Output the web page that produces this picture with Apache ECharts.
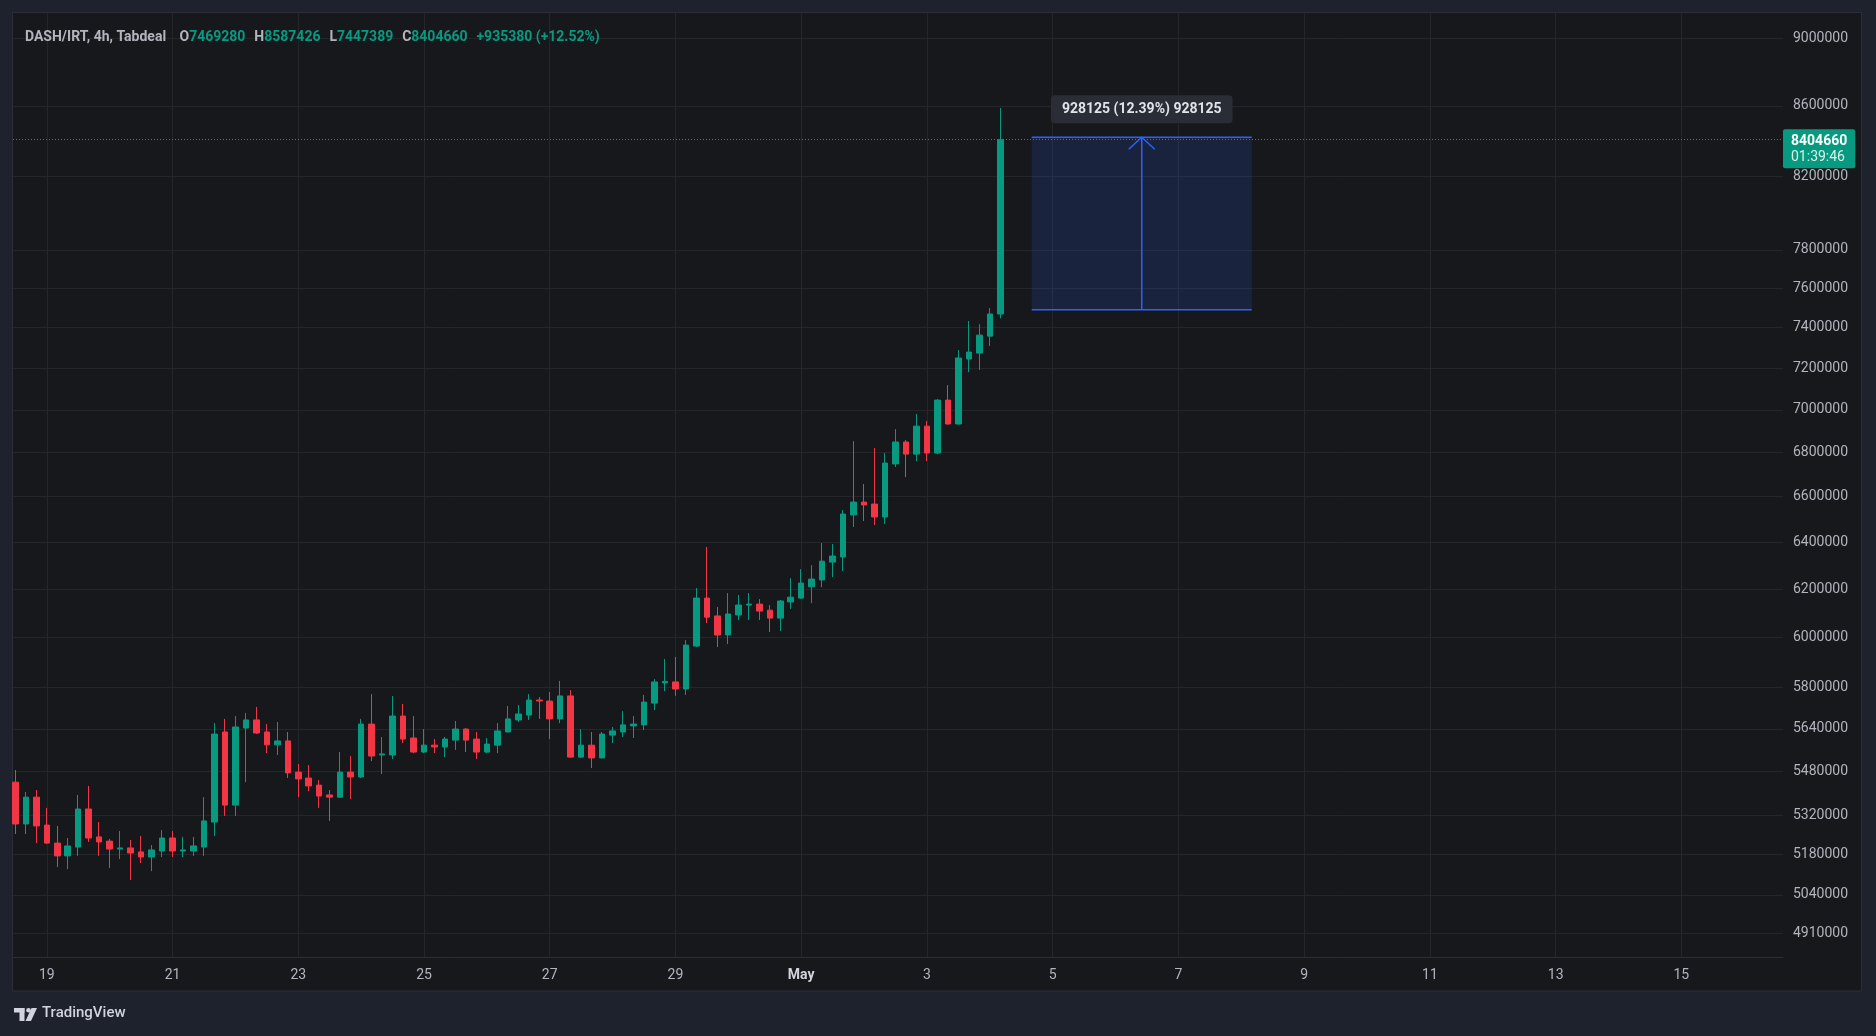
<!DOCTYPE html>
<html>
<head>
<meta charset="utf-8">
<script src="https://cdn.jsdelivr.net/npm/echarts@6/dist/echarts.min.js"></script>
<style>
html,body{margin:0;padding:0;background:#1e222d;}
#chart{width:1876px;height:1036px;}
</style>
</head>
<body>
<div id="chart"></div>
<script>
// ---- data (4h candles, DASH/IRT) ----
const startTime = '2024-04-18T12:00:00Z';
const stepHours = 4;
const open = [5440000,5288000,5385000,5284000,5220000,5175000,5206000,5342000,5242000,5227000,
  5199000,5203000,5189000,5171000,5192000,5238000,5192000,5192000,5206000,5295000,
  5628000,5356000,5643000,5674000,5628000,5579000,5594000,5477000,5455000,5429000,
  5393000,5385000,5477000,5459000,5658000,5541000,5541000,5689000,5605000,5552000,
  5578000,5571000,5597000,5639000,5601000,5552000,5578000,5628000,5674000,5693000,
  5751000,5747000,5678000,5767000,5533000,5578000,5530000,5616000,5628000,5651000,
  5655000,5739000,5818000,5822000,5794000,5965000,6162000,6088000,6010000,6092000,
  6133000,6137000,6112000,6079000,6146000,6162000,6209000,6238000,6314000,6336000,
  6519000,6576000,6567000,6510000,6748000,6849000,6793000,6923000,6798000,7046000,
  6933000,7245000,7274000,7358000,7469280];
const high = [5485000,5404000,5411000,5346000,5281000,5238000,5393000,5426000,5295000,5235000,
  5263000,5231000,5245000,5213000,5266000,5263000,5242000,5242000,5385000,5662000,
  5678000,5689000,5701000,5724000,5658000,5666000,5628000,5507000,5503000,5448000,
  5411000,5552000,5537000,5678000,5774000,5609000,5767000,5736000,5689000,5639000,
  5601000,5609000,5670000,5642000,5628000,5605000,5662000,5728000,5732000,5774000,
  5763000,5782000,5826000,5790000,5639000,5628000,5628000,5647000,5708000,5689000,
  5771000,5833000,5913000,5921000,5990000,6204000,6379000,6125000,6183000,6175000,
  6183000,6158000,6133000,6154000,6246000,6284000,6301000,6396000,6392000,6541000,
  6853000,6657000,6821000,6798000,6909000,6858000,6980000,6947000,7051000,7118000,
  7289000,7434000,7418000,7499000,8587426];
const low = [5252000,5252000,5220000,5217000,5136000,5129000,5175000,5224000,5175000,5133000,
  5164000,5091000,5150000,5122000,5171000,5171000,5171000,5175000,5175000,5245000,
  5317000,5317000,5440000,5620000,5548000,5541000,5455000,5385000,5407000,5346000,
  5299000,5382000,5378000,5455000,5518000,5470000,5526000,5586000,5548000,5548000,
  5548000,5533000,5560000,5552000,5526000,5548000,5548000,5626000,5666000,5674000,
  5678000,5601000,5662000,5530000,5530000,5492000,5528000,5586000,5609000,5605000,
  5635000,5712000,5786000,5767000,5771000,5961000,6059000,5961000,5973000,6071000,
  6071000,6071000,6022000,6026000,6117000,6160000,6141000,6208000,6250000,6276000,
  6466000,6492000,6475000,6479000,6734000,6688000,6761000,6761000,6793000,6930000,
  6930000,7181000,7191000,7309000,7447389];
const close = [5288000,5385000,5281000,5220000,5175000,5210000,5342000,5238000,5224000,5199000,
  5203000,5185000,5171000,5196000,5238000,5192000,5196000,5210000,5299000,5620000,
  5356000,5647000,5674000,5624000,5579000,5594000,5474000,5452000,5426000,5389000,
  5385000,5477000,5459000,5658000,5537000,5545000,5689000,5601000,5552000,5578000,
  5571000,5601000,5639000,5597000,5552000,5582000,5632000,5678000,5697000,5751000,
  5747000,5678000,5767000,5533000,5578000,5530000,5620000,5632000,5655000,5658000,
  5743000,5822000,5824000,5794000,5969000,6162000,6083000,6010000,6096000,6133000,
  6137000,6108000,6079000,6150000,6166000,6225000,6242000,6318000,6340000,6523000,
  6576000,6563000,6510000,6752000,6849000,6793000,6923000,6798000,7046000,6933000,
  7250000,7279000,7363000,7469280,8404660];

// price-range measurement drawn on the chart: [start, end, low price, high price]
const measureStart = '2024-05-04T16:00:00Z';
const measureEnd = '2024-05-08T04:00:00Z';
const measureLow = 7490920;
const measureHigh = 8419045;

const countdown = '01:39:46';
const symbolTitle = 'DASH/IRT, 4h, Tabdeal';

// axis ticks
const yTicks = [4910000,5040000,5180000,5320000,5480000,5640000,5800000,6000000,6200000,
  6400000,6600000,6800000,7000000,7200000,7400000,7600000,7800000,8200000,8600000,9000000];
const xTickDates = ['2024-04-19','2024-04-21','2024-04-23','2024-04-25','2024-04-27','2024-04-29',
  '2024-05-01','2024-05-03','2024-05-05','2024-05-07','2024-05-09','2024-05-11','2024-05-13','2024-05-15'];
const xTickLabels = ['19','21','23','25','27','29','May','3','5','7','9','11','13','15'];

// visible range
const xMin = Date.parse('2024-04-18T11:06:00Z');
const xMax = Date.parse('2024-05-16T14:48:00Z');
const yMin = 4831200;
const yMax = 9155900;

// ---- build ----
const t0 = Date.parse(startTime);
const times = open.map((_, i) => t0 + i * stepHours * 3600000);
const candleData = open.map((o, i) => [times[i], o, close[i], low[i], high[i]]);
const xTickValues = xTickDates.map(d => Date.parse(d + 'T00:00:00Z'));

const n = close.length;
const lastO = open[n-1], lastH = high[n-1], lastL = low[n-1], lastC = close[n-1];
const chg = lastC - close[n-2];
const chgPct = chg / close[n-2] * 100;
const UP = '#089981', DOWN = '#f23645';
const lastColor = lastC >= lastO ? UP : DOWN;

const FONT = 'Roboto, "Noto Sans", sans-serif';

const chart = echarts.init(document.getElementById('chart'), null, {renderer: 'canvas'});

const headerText = `{n|${symbolTitle}}   {k|O}{v|${lastO}}  {k|H}{v|${lastH}}  {k|L}{v|${lastL}}  {k|C}{v|${lastC}}  {v|${chg >= 0 ? '+' : ''}${chg} (${chg >= 0 ? '+' : ''}${chgPct.toFixed(2)}%)}`;

const option = {
  animation: false,
  backgroundColor: '#1e222d',
  textStyle: {fontFamily: FONT},
  graphic: [
    {type: 'rect', z: -10, silent: true, shape: {x: 12.5, y: 12.5, width: 1849, height: 978.5},
      style: {fill: '#17181c', stroke: '#2a2e39', lineWidth: 1}},
    {type: 'group', left: 14, top: 1008, children: [
      {type: 'rect', shape: {x: 0, y: 0, width: 10.5, height: 4.5}, style: {fill: '#d1d4dc'}},
      {type: 'rect', shape: {x: 5.5, y: 0, width: 5, height: 13}, style: {fill: '#d1d4dc'}},
      {type: 'circle', shape: {cx: 14.5, cy: 2.3, r: 2.3}, style: {fill: '#d1d4dc'}},
      {type: 'polygon', shape: {points: [[17.5, 0], [23, 0], [17, 13], [11.5, 13]]}, style: {fill: '#d1d4dc'}}
    ]},
    {type: 'text', left: 42, top: 1006, style: {text: 'TradingView', fill: '#d1d4dc', font: '500 15px ' + FONT}}
  ],
  title: {
    text: headerText, left: 20, top: 23,
    textStyle: {rich: {
      n: {color: '#b2b5be', fontSize: 14, fontFamily: FONT},
      k: {color: '#b2b5be', fontSize: 14, fontFamily: FONT},
      v: {color: lastColor, fontSize: 14, fontFamily: FONT}
    }}
  },
  grid: {left: 13, right: 93, top: 13.3, bottom: 78.6, containLabel: false},
  xAxis: {
    type: 'value', min: xMin, max: xMax, scale: true,
    axisLine: {show: true, onZero: false, lineStyle: {color: '#2a2e39', width: 1}},
    axisTick: {show: false, customValues: xTickValues},
    axisLabel: {
      customValues: xTickValues, color: '#b2b5be', fontSize: 14, fontFamily: FONT, margin: 11,
      hideOverlap: false, showMinLabel: true, showMaxLabel: true,
      formatter: function (v) {
        const idx = xTickValues.indexOf(v);
        const s = idx >= 0 ? xTickLabels[idx] : '';
        return isNaN(Number(s)) ? '{m|' + s + '}' : s;
      },
      rich: {m: {color: '#d1d4dc', fontWeight: 'bold', fontSize: 14, fontFamily: FONT}}
    },
    splitLine: {show: true, lineStyle: {color: '#25262a', width: 1}}
  },
  yAxis: {
    type: 'log', logBase: 10, position: 'right', min: yMin, max: yMax,
    axisLine: {show: false},
    axisTick: {show: false, customValues: yTicks},
    axisLabel: {customValues: yTicks, color: '#b2b5be', fontSize: 14, fontFamily: FONT, margin: 10,
      formatter: v => String(Math.round(v))},
    splitLine: {show: true, lineStyle: {color: '#25262a', width: 1}}
  },
  series: [
    {
      type: 'candlestick', name: 'DASH/IRT',
      data: candleData,
      encode: {x: 0, y: [1, 2, 3, 4]},
      barWidth: 6,
      itemStyle: {color: UP, color0: DOWN, borderColor: UP, borderColor0: DOWN, borderWidth: 1},
      markLine: {
        silent: true, symbol: ['none', 'none'], animation: false,
        lineStyle: {color: lastColor, type: [1, 2], width: 1},
        label: {
          show: true, position: 'end', distance: 0, offset: [0, 9],
          formatter: `{p|${lastC}}\n{t|${countdown}}`,
          backgroundColor: lastColor, padding: [4, 8, 3, 8], borderRadius: 2,
          rich: {
            p: {color: '#ffffff', fontWeight: 'bold', fontSize: 14, lineHeight: 16, fontFamily: FONT},
            t: {color: '#d8f1ea', fontSize: 14, lineHeight: 16, fontFamily: FONT}
          }
        },
        data: [{yAxis: lastC}]
      }
    },
    {
      type: 'custom', name: 'measure', silent: true, clip: false, z: 3,
      encode: {x: [0, 1], y: [2, 3]},
      data: [[Date.parse(measureStart), Date.parse(measureEnd), measureLow, measureHigh]],
      renderItem: function (params, api) {
        const pTop = api.coord([api.value(0), api.value(3)]);
        const pBot = api.coord([api.value(1), api.value(2)]);
        const x0 = pTop[0], x1 = pBot[0], yT = pTop[1], yB = pBot[1];
        const xm = (x0 + x1) / 2;
        const diff = Math.round(api.value(3) - api.value(2));
        const pct = (api.value(3) - api.value(2)) / api.value(2) * 100;
        const txt = `${diff} (${pct.toFixed(2)}%) ${diff}`;
        const blue = '#2962ff';
        return {type: 'group', children: [
          {type: 'rect', shape: {x: x0, y: yT, width: x1 - x0, height: yB - yT}, style: {fill: 'rgba(41,98,255,0.15)'}},
          {type: 'line', shape: {x1: x0, y1: yT, x2: x1, y2: yT}, style: {stroke: blue, lineWidth: 1.5}},
          {type: 'line', shape: {x1: x0, y1: yB, x2: x1, y2: yB}, style: {stroke: blue, lineWidth: 1.5}},
          {type: 'line', shape: {x1: xm, y1: yB, x2: xm, y2: yT}, style: {stroke: blue, lineWidth: 1.5}},
          {type: 'polyline', shape: {points: [[xm - 13, yT + 12], [xm, yT], [xm + 13, yT + 12]]}, style: {stroke: blue, lineWidth: 1.5, fill: null}},
          {type: 'text', x: xm, y: yT - 14, style: {text: txt, fill: '#e1e3ea', font: 'bold 14px ' + FONT,
            align: 'center', verticalAlign: 'bottom', backgroundColor: '#2a2d35', padding: [7, 11, 7, 11], borderRadius: 4}}
        ]};
      }
    }
  ]
};
chart.setOption(option);
</script>
</body>
</html>
